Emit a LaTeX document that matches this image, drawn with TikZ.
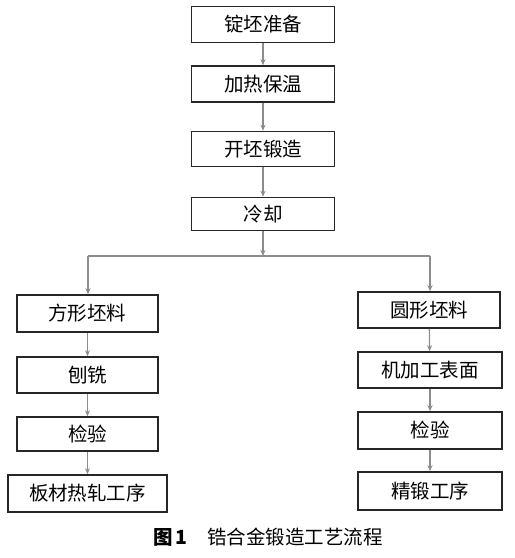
\documentclass[tikz,border=0pt]{standalone}
\usepackage{fontspec}
\newfontfamily\cjk{Noto Sans CJK SC}
\usetikzlibrary{arrows.meta}
\begin{document}
\begin{tikzpicture}[x=1pt,y=-1pt,
  box/.style={draw=black!85,line width=1.6pt,inner sep=0pt,font=\cjk\fontsize{19.5}{19.5}\selectfont},
  conn/.style={draw=black!45,line width=1.2pt,-{Stealth[length=6pt,width=5pt]}},
  plain/.style={draw=black!45,line width=1.2pt}]
\useasboundingbox (0,0) rectangle (515,558);
\node[box,minimum width=143pt,minimum height=36pt] (t1) at (263,24.5) {锭坯准备};
\node[box,minimum width=143pt,minimum height=36pt] (t2) at (263,84) {加热保温};
\node[box,minimum width=143pt,minimum height=35pt] (t3) at (263,149) {开坯锻造};
\node[box,minimum width=143pt,minimum height=33pt] (t4) at (263,214) {冷却};
\node[box,minimum width=141pt,minimum height=37pt] (l1) at (87.5,313.5) {方形坯料};
\node[box,minimum width=141pt,minimum height=36pt] (l2) at (87.5,375) {刨铣};
\node[box,minimum width=141pt,minimum height=34pt] (l3) at (87.5,434) {检验};
\node[box,minimum width=159pt,minimum height=37pt] (l4) at (87.5,493.5) {板材热轧工序};
\node[box,minimum width=142pt,minimum height=36pt] (r1) at (429,310) {圆形坯料};
\node[box,minimum width=144pt,minimum height=36pt] (r2) at (430,370) {机加工表面};
\node[box,minimum width=144pt,minimum height=37pt] (r3) at (430,430.5) {检验};
\node[box,minimum width=144pt,minimum height=38pt] (r4) at (430,491) {精锻工序};
\coordinate (s) at (263,256);
\coordinate (sl) at (88,256);
\coordinate (sr) at (430,256);
\draw[conn] (t1) -- (t2);
\draw[conn] (t2) -- (t3);
\draw[conn] (t3) -- (t4);
\draw[conn] (t4) -- (s);
\draw[plain] (sl) -- (sr);
\draw[conn] (sl) -- (sl |- l1.north);
\draw[conn] (sr) -- (sr |- r1.north);
\draw[conn] (l1) -- (l2);
\draw[conn] (l2) -- (l3);
\draw[conn] (l3) -- (l4);
\draw[conn] (r1) -- (r2);
\draw[conn] (r2) -- (r3);
\draw[conn] (r3) -- (r4);
\node[font=\cjk\fontsize{19.5}{19.5}\selectfont] (cap) at (268,537) {\textbf{图\,1}\quad 锆合金锻造工艺流程};
\end{tikzpicture}
\end{document}
